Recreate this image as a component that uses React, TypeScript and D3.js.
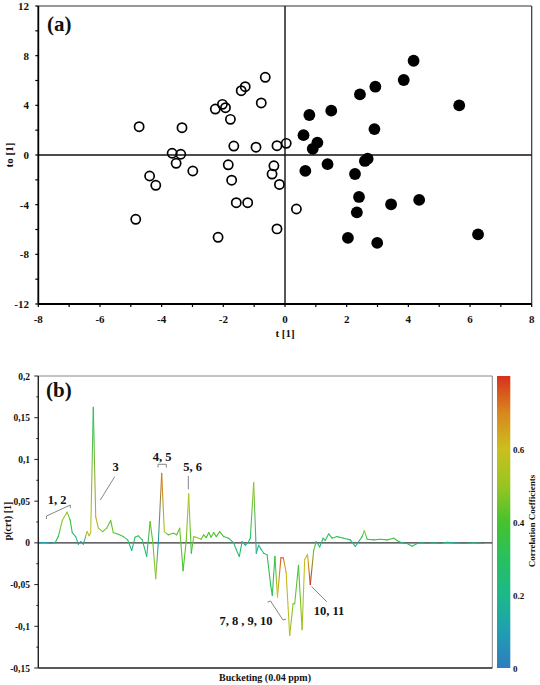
import React from "react";
import * as d3 from "d3";

// ---------- Panel (a) data: score plot ----------
const openT = [-4.73, -3.34, -3.66, -3.38, -3.53, -2.99, -2.26, -2.03, -1.93, -1.77, -1.42, -1.29, -0.64, -0.77, -1.66, -0.94, -1.84, -4.39, -0.26, 0.04, -4.19, -4.84, -1.73, -1.58, -1.21, -2.17, -0.36, -0.42, -0.18, 0.37, -0.26];
const openTo = [2.28, 2.2, 0.14, 0.06, -0.67, -1.29, 3.7, 4.08, 3.81, 2.87, 5.18, 5.5, 6.26, 4.19, 0.72, 0.63, -0.79, -1.69, 0.75, 0.94, -2.44, -5.18, -2.03, -3.84, -3.84, -6.63, -0.87, -1.54, -2.37, -4.35, -5.95];
const filledT = [4.17, 3.85, 2.93, 2.43, 5.65, 0.79, 1.5, 2.9, 0.6, 1.05, 0.9, 0.66, 1.38, 2.27, 2.59, 2.68, 2.4, 2.33, 3.44, 4.35, 2.04, 2.99, 6.26];
const filledTo = [7.59, 6.04, 5.5, 4.88, 4.0, 3.22, 3.57, 2.09, 1.6, 1.0, 0.5, -1.28, -0.74, -1.53, -0.48, -0.3, -3.38, -4.62, -3.97, -3.62, -6.68, -7.08, -6.39];
const aXTicks = [-8, -6, -4, -2, 0, 2, 4, 6, 8];
const aYTicks = [-12, -8, -4, 0, 4, 8, 12];

// ---------- Panel (b) data: loading line ----------
const bucket = [0, 3, 6, 8.4, 10, 12, 14.4, 15.9, 17, 18.7, 20, 21.2, 22.5, 24.4, 25.4, 26.2, 27.5, 28.7, 30, 32.2, 34.2, 36.2, 37.5, 40, 42.5, 44.7, 46.7, 48.4, 50, 52, 54.2, 55.9, 57.3, 58.7, 60, 61.7, 63, 65, 67.5, 69.2, 70.7, 72.4, 74, 75.2, 76.5, 77.7, 79.4, 81.4, 82.7, 84, 85.2, 86.4, 87.7, 89, 90.7, 92.7, 95.2, 97.7, 99, 100.5, 101.9, 103.5, 104.7, 106, 107.7, 109, 110.2, 111.4, 112.7, 114.4, 116.2, 117, 118.3, 119.6, 121.3, 122.5, 123.9, 125.7, 127.4, 128.2, 130.1, 131.9, 133.2, 134.6, 136, 137.7, 139, 140.7, 142.4, 143.5, 145.2, 146.9, 149.4, 152.7, 156, 158.5, 160.2, 161.9, 163, 164.4, 167.7, 171, 174.4, 177.7, 180.2, 181.9, 184.4, 186.9, 189.4, 191.9, 194.4, 197.7, 201, 204.4, 207.7, 212.7, 217.7, 222.7];
const loading = [0, 0.0005, -0.0004, 0.0002, 0.0075, 0.027, 0.0368, 0.0275, 0.012, 0.0075, -0.0016, 0.0016, -0.0016, 0.0135, 0.0084, 0.012, 0.1625, 0.0315, 0.0176, 0.0135, 0.0176, 0.0267, 0.0123, 0.0104, 0.0075, 0.0036, -0.0092, 0.0068, 0.0084, 0.0036, -0.0164, 0.0255, 0.0, -0.043, 0.0, 0.0835, 0.0135, 0.0096, 0.0116, 0.0096, 0.0176, -0.0335, 0.0036, 0.0587, -0.0124, 0.0075, 0.0063, 0.0044, 0.0096, 0.0063, 0.0123, 0.0068, 0.0123, 0.0075, 0.0135, 0.0075, 0.0056, 0.0, -0.0084, -0.0164, 0.0016, -0.0028, -0.0004, 0.0056, 0.0722, -0.0124, -0.0028, -0.0076, -0.0124, -0.0144, -0.051, -0.063, -0.016, -0.065, -0.018, -0.018, -0.035, -0.111, -0.073, -0.073, -0.027, -0.104, -0.02, -0.014, -0.05, -0.009, 0.0016, -0.005, 0.0056, 0.0028, 0.0108, 0.0056, 0.0075, 0.0056, 0.0036, -0.0044, 0.0016, 0.0075, 0.0147, 0.0044, 0.0036, 0.0044, 0.0036, 0.0056, 0.0016, 0.0, -0.0008, -0.004, -0.0008, 0.0, -0.0008, 0.0, -0.0008, 0.0008, 0.0, -0.0008, 0.0, -0.0008];
const corr = [0.1, 0.1, 0.12, 0.15, 0.35, 0.5, 0.5, 0.38, 0.3, 0.22, 0.12, 0.12, 0.1, 0.55, 0.55, 0.58, 0.3, 0.65, 0.5, 0.45, 0.45, 0.4, 0.45, 0.4, 0.35, 0.3, 0.2, 0.3, 0.35, 0.3, 0.22, 0.42, 0.45, 0.52, 0.1, 0.72, 0.55, 0.4, 0.42, 0.42, 0.45, 0.4, 0.45, 0.58, 0.35, 0.5, 0.55, 0.45, 0.42, 0.4, 0.4, 0.4, 0.42, 0.4, 0.4, 0.38, 0.35, 0.2, 0.25, 0.3, 0.2, 0.15, 0.2, 0.3, 0.5, 0.15, 0.2, 0.25, 0.3, 0.35, 0.3, 0.32, 0.35, 0.6, 0.75, 0.72, 0.62, 0.55, 0.45, 0.45, 0.38, 0.5, 0.6, 0.62, 0.8, 0.45, 0.3, 0.2, 0.3, 0.3, 0.35, 0.3, 0.35, 0.3, 0.25, 0.15, 0.2, 0.3, 0.5, 0.35, 0.35, 0.35, 0.35, 0.4, 0.3, 0.2, 0.15, 0.35, 0.15, 0.2, 0.15, 0.2, 0.15, 0.25, 0.15, 0.15, 0.25, 0.15];
const bYTicks = [-0.15, -0.1, -0.05, 0, 0.05, 0.1, 0.15, 0.2];
const bYTickLabels = ["-0,15", "-0,1", "-0,05", "0", "0,05", "0,1", "0,15", "0,2"];
const cbTicks = [0, 0.2, 0.4, 0.6];
const cbTickLabels = ["0", "0.2", "0.4", "0.6"];
const cbStops = [0, 0.1, 0.2, 0.3, 0.4, 0.5, 0.6, 0.7, 0.8];
const cbColors = ["#2f7cc0", "#1e9fb0", "#1db88a", "#27c060", "#46c22d", "#98c522", "#cbbf1e", "#d9861d", "#d8301c"];

const FONT = "'Liberation Serif', 'Times New Roman', serif";

export default function App() {
  // ---- panel a scales ----
  const ax = d3.scaleLinear().domain([-8, 8]).range([38.3, 531.7]);
  const ay = d3.scaleLinear().domain([-12, 12]).range([304, 6]);
  const aMinorX = d3.range(-8, 9, 1);
  const aMinorY = d3.range(-12, 13, 2);

  // ---- panel b scales ----
  const bx = d3.scaleLinear().domain([0, 227]).range([38.3, 492.3]);
  const by = d3.scaleLinear().domain([-0.15, 0.2]).range([668, 376]);
  const bMinorY = d3.range(-0.15, 0.2001, 0.025);
  const color = d3.scaleLinear<string>().domain(cbStops).range(cbColors).interpolate(d3.interpolateRgb);
  const cby = d3.scaleLinear().domain([0, 0.8]).range([668, 376]);

  const segs = bucket.slice(0, -1).map((b, i) => ({
    x1: bx(b), y1: by(loading[i]), x2: bx(bucket[i + 1]), y2: by(loading[i + 1]),
    c1: color(corr[i]), c2: color(corr[i + 1]),
  }));

  const tickText = { fontFamily: FONT, fontWeight: "bold" as const, fill: "#111" };

  return (
    <svg width={540} height={685} style={{ position: "absolute", left: 0, top: 0, background: "#fff" }}>
      <defs>
        {segs.map((s, i) => (
          <linearGradient key={i} id={`seg${i}`} gradientUnits="userSpaceOnUse" x1={s.x1} y1={s.y1} x2={s.x2 + 0.001} y2={s.y2 + 0.001}>
            <stop offset="0" stopColor={s.c1} />
            <stop offset="1" stopColor={s.c2} />
          </linearGradient>
        ))}
        <linearGradient id="cbGrad" gradientUnits="userSpaceOnUse" x1={0} y1={cby(0)} x2={0} y2={cby(0.8)}>
          {cbStops.map((s, i) => (
            <stop key={i} offset={s / 0.8} stopColor={cbColors[i]} />
          ))}
        </linearGradient>
      </defs>

      {/* ================= Panel (a) ================= */}
      <g>
        {/* frame */}
        <line x1={ax(-8)} x2={ax(8)} y1={ay(12)} y2={ay(12)} stroke="#333" strokeWidth={1.2} />
        <line x1={ax(8)} x2={ax(8)} y1={ay(12)} y2={ay(-12)} stroke="#333" strokeWidth={1.2} />
        {/* zero lines */}
        <line x1={ax(-8)} x2={ax(8)} y1={ay(0)} y2={ay(0)} stroke="#111" strokeWidth={1.4} />
        <line x1={ax(0)} x2={ax(0)} y1={ay(12)} y2={ay(-12)} stroke="#111" strokeWidth={1.4} />
        {/* axes */}
        <line x1={ax(-8)} x2={ax(-8)} y1={ay(12)} y2={ay(-12)} stroke="#000" strokeWidth={1.8} />
        <line x1={ax(-8)} x2={ax(8)} y1={ay(-12)} y2={ay(-12)} stroke="#000" strokeWidth={1.8} />
        {aMinorX.map((v) => (
          <line key={`axm${v}`} x1={ax(v)} x2={ax(v)} y1={ay(-12)} y2={ay(-12) + 3} stroke="#000" strokeWidth={1.2} />
        ))}
        {aMinorY.map((v) => (
          <line key={`aym${v}`} x1={ax(-8) - 3} x2={ax(-8)} y1={ay(v)} y2={ay(v)} stroke="#000" strokeWidth={1.2} />
        ))}
        {aXTicks.map((v) => (
          <text key={`axt${v}`} x={ax(v)} y={ay(-12) + 19} textAnchor="middle" fontSize={11} {...tickText}>{v}</text>
        ))}
        {aYTicks.map((v) => (
          <text key={`ayt${v}`} x={29} y={ay(v) + 4} textAnchor="end" fontSize={11} {...tickText}>{v}</text>
        ))}
        <text x={ax(0)} y={337} textAnchor="middle" fontSize={11} {...tickText}>t [1]</text>
        <text transform={`translate(13,${ay(0)}) rotate(-90)`} textAnchor="middle" fontSize={11} {...tickText}>to [1]</text>
        <text x={47} y={31} fontSize={21} {...tickText}>(a)</text>

        {openT.map((t, i) => (
          <circle key={`o${i}`} cx={ax(t)} cy={ay(openTo[i])} r={4.6} fill="none" stroke="#000" strokeWidth={1.7} />
        ))}
        {filledT.map((t, i) => (
          <circle key={`f${i}`} cx={ax(t)} cy={ay(filledTo[i])} r={5.9} fill="#000" />
        ))}
      </g>

      {/* ================= Panel (b) ================= */}
      <g>
        {/* frame */}
        <line x1={bx(0)} x2={bx(227)} y1={by(0.2)} y2={by(0.2)} stroke="#888" strokeWidth={1} />
        <line x1={bx(227)} x2={bx(227)} y1={by(0.2)} y2={by(-0.15)} stroke="#888" strokeWidth={1} />
        <line x1={bx(0)} x2={bx(227)} y1={by(0)} y2={by(0)} stroke="#333" strokeWidth={1.3} />

        {/* loading line */}
        {segs.map((s, i) => (
          <line key={`s${i}`} x1={s.x1} y1={s.y1} x2={s.x2} y2={s.y2} stroke={`url(#seg${i})`} strokeWidth={1.1} strokeLinecap="round" />
        ))}

        <line x1={bx(0)} x2={bx(0)} y1={by(0.2)} y2={by(-0.15)} stroke="#222" strokeWidth={1.4} />
        <line x1={bx(0)} x2={bx(227)} y1={by(-0.15)} y2={by(-0.15)} stroke="#222" strokeWidth={1.4} />
        {bMinorY.map((v, i) => (
          <line key={`bym${i}`} x1={bx(0) - (i % 2 === 0 ? 4 : 2)} x2={bx(0)} y1={by(v)} y2={by(v)} stroke="#222" strokeWidth={1} />
        ))}
        {bYTicks.map((v, i) => (
          <text key={`byt${i}`} x={30} y={by(v) + 3.5} textAnchor="end" fontSize={9.5} {...tickText}>{bYTickLabels[i]}</text>
        ))}
        <text x={265} y={681} textAnchor="middle" fontSize={10} {...tickText}>Bucketing (0.04 ppm)</text>
        <text transform={`translate(11,521) rotate(-90)`} textAnchor="middle" fontSize={10} {...tickText}>p(crt) [1]</text>
        <text x={46} y={397} fontSize={21} {...tickText}>(b)</text>

        {/* annotations */}
        <g stroke="#777" strokeWidth={0.9} fill="none">
          <path d="M46.5,519 L46.5,516 L70.3,505 L70.3,508" />
          <line x1={114.7} y1={476.7} x2={100.3} y2={500} />
          <path d="M158,467.5 L158,464.3 L166.3,464.3 L166.3,467.5" />
          <line x1={188.3} y1={476} x2={188.3} y2={489.3} />
          <path d="M267.5,602 L270.5,601 L283,620 L286,619" />
          <line x1={311.7} y1={586.7} x2={326.7} y2={601.7} />
        </g>
        <text x={57} y={504} textAnchor="middle" fontSize={12.5} {...tickText}>1, 2</text>
        <text x={115.5} y={471} textAnchor="middle" fontSize={12.5} {...tickText}>3</text>
        <text x={162} y={461} textAnchor="middle" fontSize={12.5} {...tickText}>4, 5</text>
        <text x={192.5} y={471} textAnchor="middle" fontSize={12.5} {...tickText}>5, 6</text>
        <text x={246} y={625} textAnchor="middle" fontSize={12.5} {...tickText}>7, 8 , 9, 10</text>
        <text x={329} y={615} textAnchor="middle" fontSize={12.5} {...tickText}>10, 11</text>

        {/* colour bar */}
        <rect x={497} y={cby(0.8)} width={13.3} height={cby(0) - cby(0.8)} fill="url(#cbGrad)" />
        {cbTicks.map((v, i) => (
          <text key={`cb${i}`} x={513} y={cby(v) + 3.5} fontSize={9} {...tickText}>{cbTickLabels[i]}</text>
        ))}
        <text transform={`translate(535,521) rotate(-90)`} textAnchor="middle" fontSize={9} {...tickText}>Correlation Coefficients</text>
      </g>
    </svg>
  );
}
